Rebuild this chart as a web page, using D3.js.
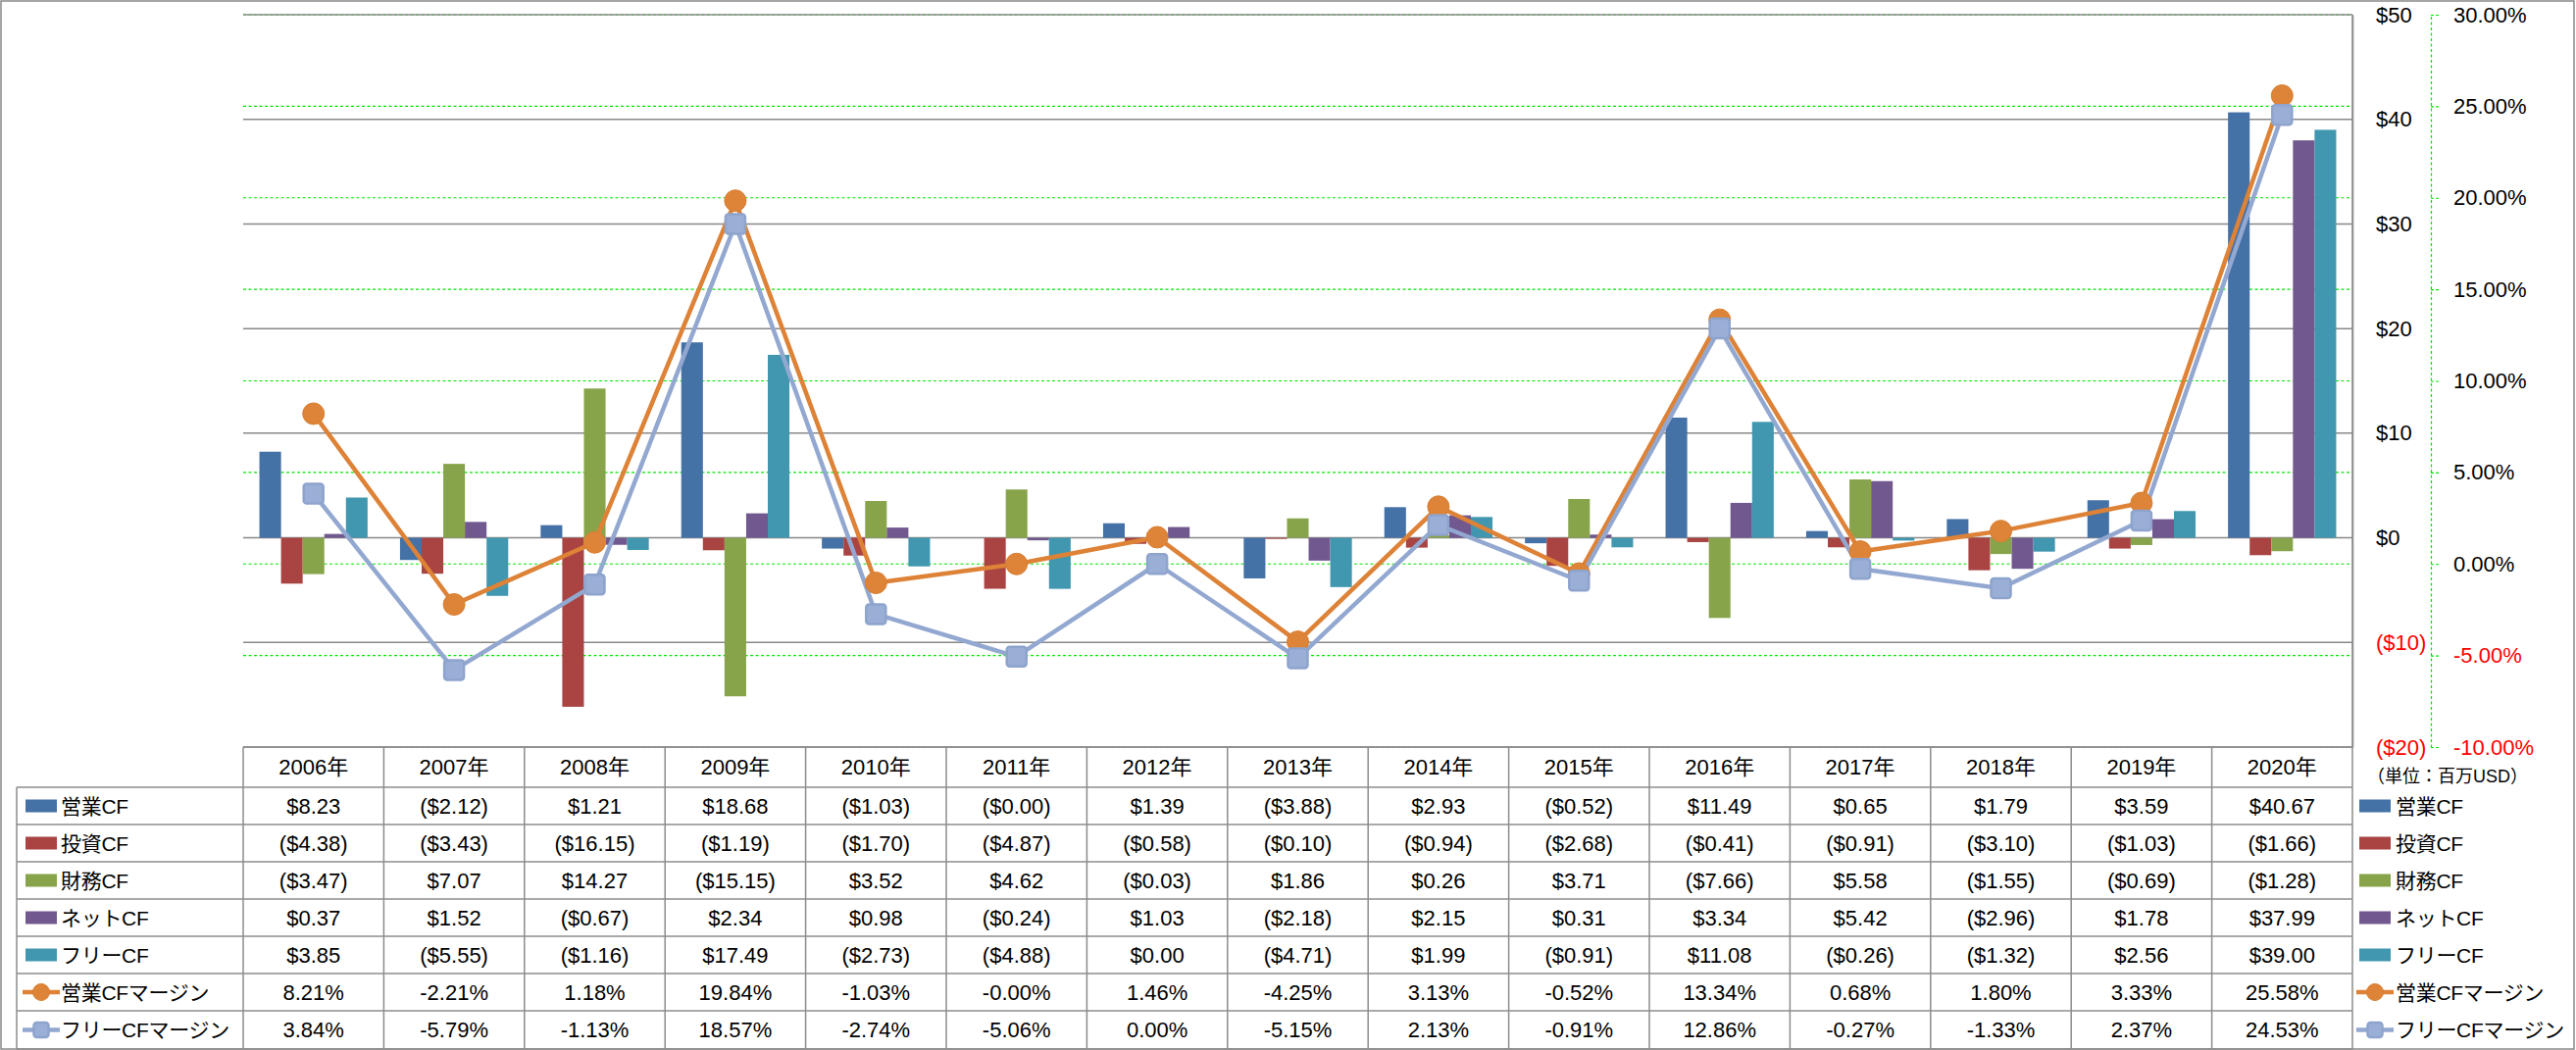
<!DOCTYPE html>
<html>
<head>
<meta charset="utf-8">
<script src="https://cdn.jsdelivr.net/npm/d3@7"></script>
<style>
  body { margin: 0; background: #fff; }
  text { font-family: "Liberation Sans", "Noto Sans CJK JP", sans-serif; }
</style>
</head>
<body>
<div id="graph"></div>
<script>
// ---- data (USD millions / %) ----
var years = ["2006年","2007年","2008年","2009年","2010年","2011年","2012年","2013年","2014年","2015年","2016年","2017年","2018年","2019年","2020年"];

var eigyoCF  = [8.23, -2.12, 1.21, 18.68, -1.03, -0.001, 1.39, -3.88, 2.93, -0.52, 11.49, 0.65, 1.79, 3.59, 40.67];
var toshiCF  = [-4.38, -3.43, -16.15, -1.19, -1.70, -4.87, -0.58, -0.10, -0.94, -2.68, -0.41, -0.91, -3.10, -1.03, -1.66];
var zaimuCF  = [-3.47, 7.07, 14.27, -15.15, 3.52, 4.62, -0.03, 1.86, 0.26, 3.71, -7.66, 5.58, -1.55, -0.69, -1.28];
var netCF    = [0.37, 1.52, -0.67, 2.34, 0.98, -0.24, 1.03, -2.18, 2.15, 0.31, 3.34, 5.42, -2.96, 1.78, 37.99];
var freeCF   = [3.85, -5.55, -1.16, 17.49, -2.73, -4.88, 0.00, -4.71, 1.99, -0.91, 11.08, -0.26, -1.32, 2.56, 39.00];
var eigyoMargin = [8.21, -2.21, 1.18, 19.84, -1.03, -0.001, 1.46, -4.25, 3.13, -0.52, 13.34, 0.68, 1.80, 3.33, 25.58];
var freeMargin  = [3.84, -5.79, -1.13, 18.57, -2.74, -5.06, 0.00, -5.15, 2.13, -0.91, 12.86, -0.27, -1.33, 2.37, 24.53];

var barNames  = ["営業CF","投資CF","財務CF","ネットCF","フリーCF"];
var lineNames = ["営業CFマージン","フリーCFマージン"];
var yTicks  = [-20, -10, 0, 10, 20, 30, 40, 50];
var y2Ticks = [-10, -5, 0, 5, 10, 15, 20, 25, 30];
var unitLabel = "（単位：百万USD）";

var barValues  = [eigyoCF, toshiCF, zaimuCF, netCF, freeCF];
var lineValues = [eigyoMargin, freeMargin];
var barColors  = ["#4471A6", "#A94442", "#88A44B", "#71588F", "#4197AF"];
var lineColors = ["#DD8236", "#93A8D0"];

var width = 2627, height = 1071;
var plotLeft = 248, plotRight = 2399, plotTop = 15, plotBottom = 762;
var rowTops = [762, 803, 841, 879, 917, 955, 993, 1031, 1070];

var svg = d3.select("#graph").append("svg")
    .attr("width", width)
    .attr("height", height);

// outer frame
svg.append("rect")
    .attr("x", 1).attr("y", 1)
    .attr("width", width - 3).attr("height", height - 2)
    .attr("fill", "none")
    .attr("stroke", "#888")
    .attr("stroke-width", 1.5);

var xScale = d3.scaleBand().domain(years).range([plotLeft, plotRight]).padding(0);
var xSub = d3.scaleBand().domain(barNames).range([0, xScale.bandwidth()])
    .paddingInner(0).paddingOuter(0.75);
var yScale = d3.scaleLinear().domain([-20, 50]).range([plotBottom, plotTop]);
var y2Scale = d3.scaleLinear().domain([-10, 30]).range([plotBottom, plotTop]);

function fmtMoney(v) {
  return v < 0 ? "($" + Math.abs(v).toFixed(2) + ")" : "$" + v.toFixed(2);
}
function fmtPct(v) { return v.toFixed(2) + "%"; }

// secondary gridlines (green dashed)
svg.append("g").selectAll("line")
    .data(y2Ticks)
    .enter().append("line")
    .attr("x1", plotLeft).attr("x2", plotRight)
    .attr("y1", function(d) { return y2Scale(d); })
    .attr("y2", function(d) { return y2Scale(d); })
    .attr("stroke", "#00E600")
    .attr("stroke-width", 1.2)
    .attr("stroke-dasharray", "3,2.5");

// primary gridlines (gray)
svg.append("g").selectAll("line")
    .data(yTicks)
    .enter().append("line")
    .attr("x1", plotLeft).attr("x2", plotRight)
    .attr("y1", function(d) { return yScale(d); })
    .attr("y2", function(d) { return yScale(d); })
    .attr("stroke", "#888")
    .attr("stroke-width", 1.5);

// bars
barValues.forEach(function(vals, s) {
  svg.append("g").selectAll("rect")
     .data(vals)
     .enter().append("rect")
     .attr("x", function(d, i) { return xScale(years[i]) + xSub(barNames[s]); })
     .attr("y", function(d) { return yScale(Math.max(0, d)); })
     .attr("width", xSub.bandwidth())
     .attr("height", function(d) { return Math.abs(yScale(d) - yScale(0)); })
     .attr("fill", barColors[s]);
});

// primary axis on the right
var yAxis = svg.append("g")
    .attr("transform", "translate(" + plotRight + ",0)")
    .call(d3.axisRight(yScale).tickValues(yTicks).tickSize(0).tickPadding(24)
      .tickFormat(function(d) { return d < 0 ? "($" + (-d) + ")" : "$" + d; }));
yAxis.select(".domain").attr("stroke", "#888").attr("stroke-width", 1.5);
yAxis.selectAll("text")
    .attr("font-size", "22px")
    .attr("fill", function(d) { return d < 0 ? "#FF0000" : "#000"; });

// secondary axis
var y2Axis = svg.append("g")
    .attr("transform", "translate(2479,0)")
    .call(d3.axisRight(y2Scale).tickValues(y2Ticks).tickSize(8).tickSizeOuter(0).tickPadding(15)
      .tickFormat(function(d) { return d.toFixed(2) + "%"; }));
y2Axis.select(".domain").attr("stroke", "#00E600").attr("stroke-width", 1.2).attr("stroke-dasharray", "3,2.5");
y2Axis.selectAll(".tick line").attr("stroke", "#00E600").attr("stroke-width", 1.2).attr("stroke-dasharray", "3,2");
y2Axis.selectAll("text")
    .attr("font-size", "22px")
    .attr("fill", function(d) { return d < 0 ? "#FF0000" : "#000"; });

// lines
var cx = function(d, i) { return xScale(years[i]) + xScale.bandwidth() / 2; };
lineValues.forEach(function(vals, s) {
  var line = d3.line().x(cx).y(function(d) { return y2Scale(d); });
  svg.append("path")
     .datum(vals)
     .attr("d", line)
     .attr("fill", "none")
     .attr("stroke", lineColors[s])
     .attr("stroke-width", 4.5)
     .attr("stroke-linejoin", "round");
});
function drawMarker(g, s, x, y, r) {
  if (s === 0) {
    g.append("circle").attr("cx", x).attr("cy", y).attr("r", r)
     .attr("fill", "#DD8438").attr("stroke", "#D97E31").attr("stroke-width", 1);
  } else {
    g.append("rect").attr("x", x - r + 1).attr("y", y - r + 1)
     .attr("width", 2 * r - 2).attr("height", 2 * r - 2).attr("rx", 3)
     .attr("fill", "#9AAFD6").attr("stroke", "#8EA4CD").attr("stroke-width", 2.5);
  }
}
lineValues.forEach(function(vals, s) {
  var g = svg.append("g");
  vals.forEach(function(d, i) { drawMarker(g, s, cx(d, i), y2Scale(d), 11); });
});

// ---- data table ----
var grid = svg.append("g").attr("stroke", "#8C8C8C").attr("stroke-width", 1.5);
grid.append("line").attr("x1", plotLeft).attr("x2", plotRight)
    .attr("y1", rowTops[0]).attr("y2", rowTops[0]);
rowTops.slice(1).forEach(function(yy) {
  grid.append("line").attr("x1", 17).attr("x2", plotRight).attr("y1", yy).attr("y2", yy);
});
grid.append("line").attr("x1", 17).attr("x2", 17).attr("y1", rowTops[1]).attr("y2", rowTops[8]);
years.forEach(function(yr) {
  grid.append("line").attr("x1", xScale(yr)).attr("x2", xScale(yr))
      .attr("y1", rowTops[0]).attr("y2", rowTops[8]);
});
grid.append("line").attr("x1", plotRight).attr("x2", plotRight)
    .attr("y1", plotTop).attr("y2", rowTops[8]);

// header row
svg.append("g").selectAll("text")
    .data(years)
    .enter().append("text")
    .attr("x", function(d) { return xScale(d) + xScale.bandwidth() / 2; })
    .attr("y", (rowTops[0] + rowTops[1]) / 2)
    .attr("dy", "0.36em")
    .attr("text-anchor", "middle")
    .attr("font-size", "22px")
    .text(function(d) { return d; });

var allRows = barValues.map(function(v) { return v.map(fmtMoney); })
    .concat(lineValues.map(function(v) { return v.map(fmtPct); }));
var allNames = barNames.concat(lineNames);

allRows.forEach(function(row, r) {
  var yc = (rowTops[r + 1] + rowTops[r + 2]) / 2;
  svg.append("g").selectAll("text")
     .data(row)
     .enter().append("text")
     .attr("x", function(d, i) { return xScale(years[i]) + xScale.bandwidth() / 2; })
     .attr("y", yc)
     .attr("dy", "0.36em")
     .attr("text-anchor", "middle")
     .attr("font-size", "22px")
     .text(function(d) { return d; });

  // legend keys: left in the table, right outside
  [[26, 62], [2406, 2443]].forEach(function(pos) {
    var g = svg.append("g");
    if (r < 5) {
      g.append("rect").attr("x", pos[0]).attr("y", yc - 6.5)
       .attr("width", 32).attr("height", 13).attr("fill", barColors[r]);
    } else {
      g.append("line").attr("x1", pos[0] - 3).attr("x2", pos[0] + 35)
       .attr("y1", yc).attr("y2", yc)
       .attr("stroke", lineColors[r - 5]).attr("stroke-width", 4.5);
      drawMarker(g, r - 5, pos[0] + 16, yc, 8.5);
    }
    g.append("text").attr("x", pos[1]).attr("y", yc).attr("dy", "0.36em")
     .attr("font-size", "21px")
     .attr("letter-spacing", "-0.3px")
     .text(allNames[r]);
  });
});

svg.append("text")
    .attr("x", 2414).attr("y", 792).attr("dy", "0.36em")
    .attr("font-size", "18px")
    .text(unitLabel);
</script>
</body>
</html>
